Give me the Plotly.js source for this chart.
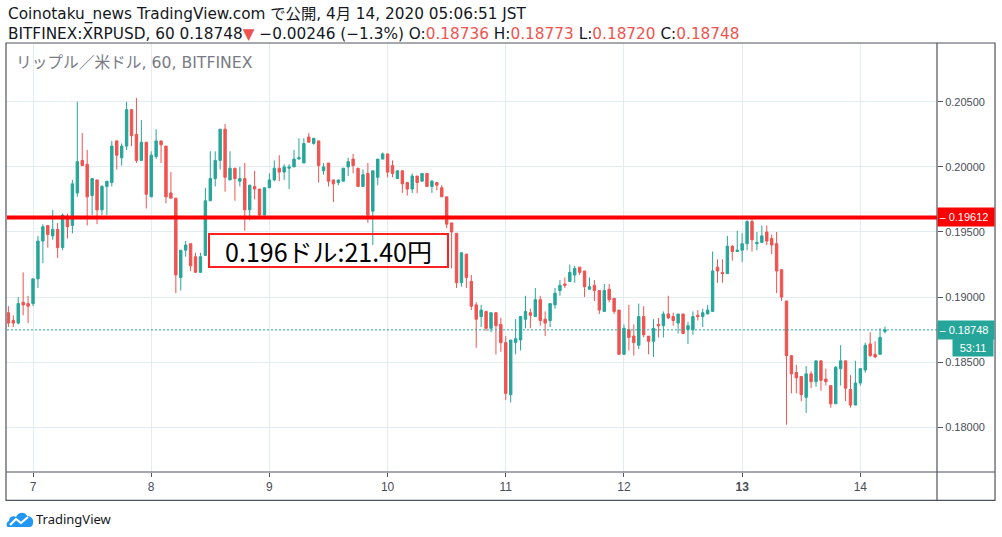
<!DOCTYPE html>
<html>
<head>
<meta charset="utf-8">
<script src="https://cdn.plot.ly/plotly-3.0.1.min.js"></script>
<style>
html,body{margin:0;padding:0;background:#fff;}
#chart{width:1002px;height:537px;position:relative;}
#logo{position:absolute;left:6px;top:509px;}
</style>
</head>
<body>
<div id="chart"></div>
<svg id="logo" width="28" height="20" viewBox="0 0 28 20">
  <path d="M2 18 C0 18 0 13 3 12 C3 8 7 6 10 8 C12 3 19 2 21 7 C25 7 28 10 27 14 C27 17 25 18 23 18 Z" fill="#2196f3"/>
  <path d="M4 16 L10 10 L15 14 L22 8" stroke="#fff" stroke-width="2.2" fill="none" stroke-linejoin="round"/>
</svg>
<script>
// hourly candles, first bar 2020-04-06 19:00 JST
var startTime = "2020-04-06T19:00:00";
var opens = [
0.1888,0.1882,0.1880,0.1896,0.1895,0.1895,0.1914,0.1943,0.1955,0.1947,
0.1952,0.1938,0.1962,0.1955,0.1980,0.2005,0.2002,0.1978,0.1990,0.1967,
0.1985,0.1988,0.2020,0.2007,0.2016,0.2044,0.2025,0.2005,0.2019,0.1977,
0.2008,0.2020,0.2016,0.1980,0.1976,0.1915,0.1936,0.1941,0.1931,0.1919,
0.1932,0.1974,0.1991,0.2005,0.2029,0.1990,0.1999,0.1989,0.1991,0.1967,
0.1985,0.1983,0.1963,0.1984,0.1990,0.1999,0.1996,0.1999,0.2000,0.2006,
0.2003,0.2023,0.2018,0.2020,0.1997,0.2003,0.1990,0.1988,0.1989,0.2000,
0.2006,0.1999,0.1985,0.1995,0.1966,0.1992,0.2006,0.2010,0.2001,0.1991,
0.1997,0.1988,0.1983,0.1993,0.1989,0.1995,0.1985,0.1988,0.1984,0.1977,
0.1957,0.1949,0.1911,0.1933,0.1912,0.1894,0.1885,0.1889,0.1876,0.1888,
0.1879,0.1865,0.1825,0.1865,0.1867,0.1883,0.1888,0.1885,0.1898,0.1883,
0.1882,0.1894,0.1905,0.1910,0.1912,0.1917,0.1923,0.1920,0.1906,0.1909,
0.1905,0.1889,0.1906,0.1899,0.1890,0.1856,0.1875,0.1870,0.1863,0.1885,
0.1870,0.1866,0.1879,0.1878,0.1887,0.1885,0.1880,0.1887,0.1875,0.1875,
0.1886,0.1885,0.1887,0.1889,0.1923,0.1919,0.1918,0.1939,0.1935,0.1936,
0.1941,0.1958,0.1941,0.1942,0.1950,0.1945,0.1941,0.1921,0.1897,0.1855,
0.1842,0.1839,0.1823,0.1841,0.1835,0.1851,0.1837,0.1832,0.1818,0.1845,
0.1851,0.1829,0.1817,0.1834,0.1844,0.1864,0.1856,0.1856,0.18736
];
var highs = [
0.1893,0.1886,0.1900,0.1919,0.1901,0.1914,0.1947,0.1956,0.1955,0.1967,
0.1957,0.1964,0.1964,0.1990,0.2050,0.2026,0.2013,0.1991,0.1990,0.1986,
0.1989,0.2020,0.2020,0.2018,0.2050,0.2044,0.2053,0.2036,0.2019,0.2012,
0.2029,0.2020,0.2016,0.1996,0.1976,0.1936,0.1943,0.1941,0.1934,0.1934,
0.1984,0.2012,0.2012,0.2029,0.2033,0.2012,0.1999,0.2000,0.2003,0.1986,
0.1997,0.1983,0.1984,0.1995,0.2005,0.2009,0.2002,0.2002,0.2013,0.2022,
0.2022,0.2026,0.2022,0.2020,0.2003,0.2003,0.1990,0.1990,0.1999,0.2007,
0.2010,0.1999,0.1998,0.2003,0.1997,0.2006,0.2011,0.2010,0.2005,0.1997,
0.1997,0.1988,0.1995,0.1993,0.1995,0.1995,0.1990,0.1988,0.1986,0.1977,
0.1957,0.1949,0.1934,0.1933,0.1917,0.1896,0.1894,0.1889,0.1888,0.1888,
0.1884,0.1870,0.1867,0.1883,0.1885,0.1901,0.1891,0.1907,0.1901,0.1889,
0.1895,0.1907,0.1913,0.1915,0.1925,0.1924,0.1923,0.1920,0.1915,0.1913,
0.1905,0.1910,0.1910,0.1899,0.1890,0.1879,0.1894,0.1879,0.1895,0.1893,
0.1870,0.1883,0.1884,0.1889,0.1901,0.1888,0.1887,0.1887,0.1881,0.1889,
0.1890,0.1891,0.1894,0.1935,0.1929,0.1929,0.1947,0.1940,0.1951,0.1949,
0.1959,0.1960,0.1950,0.1955,0.1955,0.1948,0.1950,0.1921,0.1897,0.1855,
0.1848,0.1839,0.1847,0.1843,0.1851,0.1851,0.1845,0.1832,0.1847,0.1863,
0.1851,0.1840,0.1851,0.1845,0.1865,0.1873,0.1866,0.1876,0.18773
];
var lows = [
0.1877,0.1877,0.1879,0.1886,0.1880,0.1893,0.1907,0.1926,0.1938,0.1944,
0.1930,0.1936,0.1945,0.1949,0.1977,0.2001,0.1955,0.1963,0.1956,0.1963,
0.1963,0.1985,0.1998,0.2001,0.2013,0.2016,0.2003,0.2005,0.1968,0.1977,
0.2006,0.2003,0.1972,0.1976,0.1903,0.1905,0.1931,0.1920,0.1919,0.1919,
0.1932,0.1974,0.1985,0.1998,0.1981,0.1990,0.1974,0.1985,0.1951,0.1959,
0.1975,0.1962,0.1963,0.1984,0.1989,0.1989,0.1990,0.1983,0.2000,0.2006,
0.2003,0.2019,0.2017,0.1988,0.1994,0.1985,0.1973,0.1986,0.1989,0.1993,
0.1995,0.1985,0.1985,0.1957,0.1940,0.1986,0.2006,0.1992,0.1992,0.1991,
0.1980,0.1978,0.1980,0.1980,0.1989,0.1985,0.1980,0.1982,0.1977,0.1953,
0.1922,0.1907,0.1908,0.1907,0.1890,0.1861,0.1877,0.1874,0.1873,0.1856,
0.1858,0.1821,0.1819,0.1856,0.1859,0.1876,0.1876,0.1885,0.1878,0.1870,
0.1877,0.1891,0.1901,0.1907,0.1912,0.1911,0.1917,0.1900,0.1906,0.1897,
0.1887,0.1889,0.1896,0.1887,0.1856,0.1856,0.1859,0.1855,0.1860,0.1869,
0.1856,0.1854,0.1869,0.1869,0.1883,0.1878,0.1872,0.1872,0.1864,0.1871,
0.1882,0.1877,0.1887,0.1889,0.1911,0.1911,0.1918,0.1928,0.1935,0.1927,
0.1936,0.1935,0.1936,0.1942,0.1940,0.1933,0.1903,0.1897,0.1802,0.1826,
0.1826,0.1820,0.1811,0.1830,0.1831,0.1828,0.1832,0.1815,0.1818,0.1832,
0.1820,0.1815,0.1817,0.1832,0.1842,0.1854,0.1853,0.1856,0.18720
];
var closes = [
0.1880,0.1880,0.1895,0.1894,0.1893,0.1914,0.1943,0.1954,0.1948,0.1952,
0.1938,0.1963,0.1954,0.1987,0.2004,0.2001,0.1977,0.1991,0.1967,0.1985,
0.1989,0.2016,0.2009,0.2016,0.2044,0.2024,0.2005,0.2019,0.1979,0.2009,
0.2020,0.2017,0.1977,0.1976,0.1917,0.1936,0.1940,0.1924,0.1919,0.1931,
0.1974,0.1991,0.2005,0.2029,0.1992,0.1999,0.1991,0.1991,0.1967,0.1986,
0.1983,0.1963,0.1984,0.1990,0.1999,0.1996,0.2000,0.2000,0.2006,0.2007,
0.2018,0.2019,0.2022,0.2001,0.2000,0.1989,0.1987,0.1990,0.1999,0.2004,
0.2001,0.1985,0.1994,0.1963,0.1997,0.2006,0.2010,0.1996,0.1995,0.1997,
0.1987,0.1983,0.1993,0.1988,0.1995,0.1985,0.1989,0.1986,0.1977,0.1956,
0.1950,0.1911,0.1934,0.1915,0.1893,0.1883,0.1890,0.1876,0.1888,0.1878,
0.1865,0.1826,0.1867,0.1868,0.1885,0.1889,0.1886,0.1898,0.1882,0.1880,
0.1895,0.1903,0.1909,0.1909,0.1919,0.1922,0.1919,0.1908,0.1908,0.1905,
0.1890,0.1905,0.1898,0.1889,0.1856,0.1876,0.1869,0.1865,0.1885,0.1871,
0.1866,0.1876,0.1878,0.1887,0.1884,0.1882,0.1887,0.1872,0.1878,0.1885,
0.1885,0.1888,0.1890,0.1920,0.1920,0.1918,0.1939,0.1935,0.1936,0.1941,
0.1958,0.1944,0.1942,0.1947,0.1943,0.1940,0.1920,0.1900,0.1855,0.1841,
0.1838,0.1825,0.1841,0.1835,0.1851,0.1836,0.1835,0.1818,0.1846,0.1851,
0.1830,0.1817,0.1834,0.1845,0.1863,0.1855,0.1854,0.1869,0.18748
];
var dayTicks = ["2020-04-07","2020-04-08","2020-04-09","2020-04-10","2020-04-11","2020-04-12","2020-04-13","2020-04-14"];
var dayLabels = ["7","8","9","10","11","12","<b>13</b>","14"];
var levelPrice = 0.19612;
var lastPrice = 0.18748;
var levelNote = "0.196ドル:21.40円";
var countdown = "53:11";

function pad(n){return (n<10?"0":"")+n;}
var times = [];
var t0 = new Date(startTime + "Z").getTime();
for (var i = 0; i < closes.length; i++) {
  var d = new Date(t0 + i*3600000);
  times.push(d.getUTCFullYear()+"-"+pad(d.getUTCMonth()+1)+"-"+pad(d.getUTCDate())+" "+pad(d.getUTCHours())+":00");
}

var UP = "#26a69a", DOWN = "#ef5350", FRAME = "#50535e", GRID = "#e3ecf1";
var FONT = "DejaVu Sans, Noto Sans CJK JP, sans-serif";
var RED = "<span style='color:#ef5350'>";

var trace = {
  type: "candlestick", x: times, open: opens, high: highs, low: lows, close: closes,
  increasing: {line: {color: UP, width: 1}, fillcolor: UP},
  decreasing: {line: {color: DOWN, width: 1}, fillcolor: DOWN},
  whiskerwidth: 0, hoverinfo: "none", showlegend: false
};

function py(px){ return (471.7 - px)/428.4; }
function pxp(px){ return (px - 7)/930; }

var layout = {
  width: 1002, height: 537,
  margin: {l: 7, r: 65, t: 43, b: 65},
  paper_bgcolor: "#fff", plot_bgcolor: "#fff",
  showlegend: false,
  xaxis: {
    type: "date", range: ["2020-04-06 18:43", "2020-04-14 15:34"],
    rangeslider: {visible: false},
    tickmode: "array", tickvals: dayTicks, ticktext: dayLabels,
    ticks: "outside", ticklen: 4, tickcolor: FRAME,
    showgrid: true, gridcolor: GRID, gridwidth: 1, zeroline: false,
    tickfont: {family: "Liberation Sans, sans-serif", size: 12, color: "#4a4d57"},
    showline: false, fixedrange: true
  },
  yaxis: {
    side: "right", range: [0.17656, 0.20952],
    tick0: 0.18, dtick: 0.005, tickformat: ".5f",
    ticks: "outside", ticklen: 5, tickcolor: FRAME,
    showgrid: true, gridcolor: GRID, gridwidth: 1, zeroline: false,
    tickfont: {family: "Liberation Sans, sans-serif", size: 11, color: "#4a4d57"},
    showline: false, fixedrange: true
  },
  shapes: [
    {type: "line", xref: "paper", yref: "y", x0: 0, x1: 1, y0: lastPrice, y1: lastPrice,
     line: {color: UP, width: 1, dash: "2px,2px"}},
    {type: "line", xref: "paper", yref: "y", x0: 0, x1: 1, y0: levelPrice, y1: levelPrice,
     line: {color: "#ff0000", width: 4}},
    {type: "rect", xref: "paper", yref: "paper", x0: -0.00108, x1: 1.0624, y0: -0.066, y1: 1.0,
     line: {color: FRAME, width: 1.2}},
    {type: "line", xref: "paper", yref: "paper", x0: 1, x1: 1, y0: -0.066, y1: 1.0,
     line: {color: FRAME, width: 1.2}},
    {type: "line", xref: "paper", yref: "paper", x0: -0.00108, x1: 1.0624, y0: 0, y1: 0,
     line: {color: FRAME, width: 1.2}}
  ],
  annotations: [
    {xref: "paper", yref: "paper", x: pxp(6), y: py(24), xanchor: "left", yanchor: "middle", showarrow: false,
     align: "left",
     text: "Coinotaku_news TradingView.com で公開, 4月 14, 2020 05:06:51 JST<br>" +
           "BITFINEX:XRPUSD, 60 0.18748" + RED + "▼</span> −0.00246 (−1.3%) O:" + RED + "0.18736</span> H:" +
           RED + "0.18773</span> L:" + RED + "0.18720</span> C:" + RED + "0.18748</span>",
     font: {family: FONT, size: 15.3, color: "#131722"}},
    {xref: "paper", yref: "paper", x: pxp(14), y: py(63), xanchor: "left", yanchor: "middle", showarrow: false,
     text: "リップル／米ドル, 60, BITFINEX",
     font: {family: FONT, size: 15.7, color: "#787b86"}},
    {xref: "paper", yref: "paper", x: pxp(328.5), y: py(250.5), xanchor: "center", yanchor: "middle", showarrow: false,
     text: levelNote, width: 237, height: 31, bordercolor: "#ff2020", borderwidth: 2, borderpad: 0,
     font: {family: "Noto Sans CJK JP, sans-serif", size: 25, color: "#000"}},
    {xref: "paper", yref: "y", x: 1, y: levelPrice, xanchor: "left", yanchor: "middle", showarrow: false,
     text: "‒ " + levelPrice.toFixed(5), align: "left", width: 53, height: 15, bgcolor: "#ff0000", borderpad: 1.5,
     font: {family: "Liberation Sans, sans-serif", size: 11, color: "#fff"}},
    {xref: "paper", yref: "y", x: 1, y: lastPrice, xanchor: "left", yanchor: "middle", showarrow: false,
     text: "‒ " + lastPrice.toFixed(5), align: "left", width: 53, height: 15, bgcolor: UP, borderpad: 1.5,
     font: {family: "Liberation Sans, sans-serif", size: 11, color: "#fff"}},
    {xref: "paper", yref: "paper", x: pxp(994), y: py(347.5), xanchor: "right", yanchor: "middle", showarrow: false,
     text: countdown, width: 37, height: 14, bgcolor: UP, borderpad: 1.5,
     font: {family: "Liberation Sans, sans-serif", size: 11, color: "#fff"}},
    {xref: "paper", yref: "paper", x: pxp(34), y: py(519), xanchor: "left", yanchor: "middle", showarrow: false,
     text: "TradingView",
     font: {family: "Noto Sans, sans-serif", size: 13, color: "#131722"}}
  ]
};

Plotly.newPlot("chart", [trace], layout, {displayModeBar: false, staticPlot: true});
</script>
</body>
</html>
